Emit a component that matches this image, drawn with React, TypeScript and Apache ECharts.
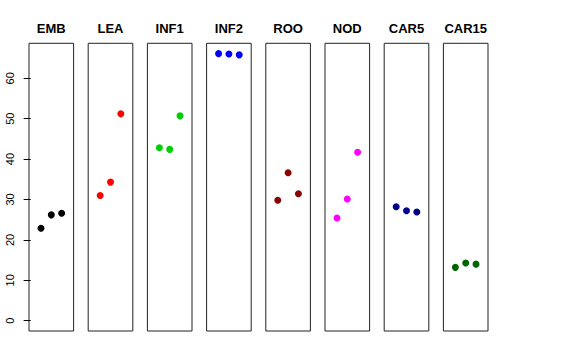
import React, { useEffect, useRef } from "react";
import * as echarts from "echarts";

const panelNames = ["EMB", "LEA", "INF1", "INF2", "ROO", "NOD", "CAR5", "CAR15"];
const panelColors = ["#000000", "#FF0000", "#00CD00", "#0000FF", "#8B0000", "#FF00FF", "#00008B", "#006400"];
const xPositions = [1, 2, 3];
const embValues = [22.9, 26.2, 26.6];
const leaValues = [31.0, 34.3, 51.2];
const inf1Values = [42.8, 42.4, 50.7];
const inf2Values = [66.1, 66.0, 65.8];
const rooValues = [29.8, 36.6, 31.4];
const nodValues = [25.4, 30.1, 41.7];
const car5Values = [28.2, 27.2, 26.9];
const car15Values = [13.2, 14.3, 14.0];
const yTickValues = [0, 10, 20, 30, 40, 50, 60];

const allValues = [embValues, leaValues, inf1Values, inf2Values, rooValues, nodValues, car5Values, car15Values];

export default function App() {
  const ref = useRef<HTMLDivElement>(null);
  useEffect(() => {
    if (!ref.current) return;
    document.body.style.margin = "0";
    const chart = echarts.init(ref.current, null, { renderer: "svg" });
    const left0 = 29;
    const step = 59.2;
    const w = 44.6;
    const top = 43.3;
    const h = 287.7;
    const font = "Liberation Sans, Arial, Helvetica, sans-serif";
    const grids = panelNames.map((_, i) => ({
      left: left0 + i * step,
      top,
      width: w,
      height: h,
      show: true,
      borderColor: "#222",
      borderWidth: 1,
      backgroundColor: "transparent",
      containLabel: false,
    }));
    const xAxes = panelNames.map((_, i) => ({
      type: "value",
      gridIndex: i,
      min: -0.16,
      max: 4.16,
      show: false,
    }));
    const yAxes = panelNames.map((_, i) => ({
      type: "value",
      gridIndex: i,
      min: -2.55,
      max: 68.66,
      show: i === 0,
      splitLine: { show: false },
      axisLine: { show: false },
      axisTick: {
        show: i === 0,
        length: 7,
        customValues: yTickValues,
        lineStyle: { color: "#000", width: 1 },
      },
      axisLabel: {
        show: i === 0,
        customValues: yTickValues,
        rotate: 90,
        margin: 14,
        fontSize: 11,
        color: "#000",
        fontFamily: font,
      },
    }));
    const series = panelNames.map((name, i) => ({
      type: "scatter",
      name,
      xAxisIndex: i,
      yAxisIndex: i,
      symbol: "circle",
      symbolSize: 7,
      itemStyle: { color: panelColors[i], opacity: 1 },
      data: allValues[i].map((v, j) => [xPositions[j], v]),
    }));
    const titles = panelNames.map((name, i) => ({
      text: name,
      left: left0 + i * step + w / 2,
      top: 21,
      textAlign: "center",
      textStyle: { fontSize: 13, fontWeight: "bold", color: "#000", fontFamily: font, lineHeight: 14 },
      padding: 0,
    }));
    chart.setOption({
      animation: false,
      backgroundColor: "#fff",
      title: titles,
      grid: grids,
      xAxis: xAxes,
      yAxis: yAxes,
      series,
    });
    return () => chart.dispose();
  }, []);
  return <div ref={ref} style={{ width: 576, height: 360 }} />;
}
